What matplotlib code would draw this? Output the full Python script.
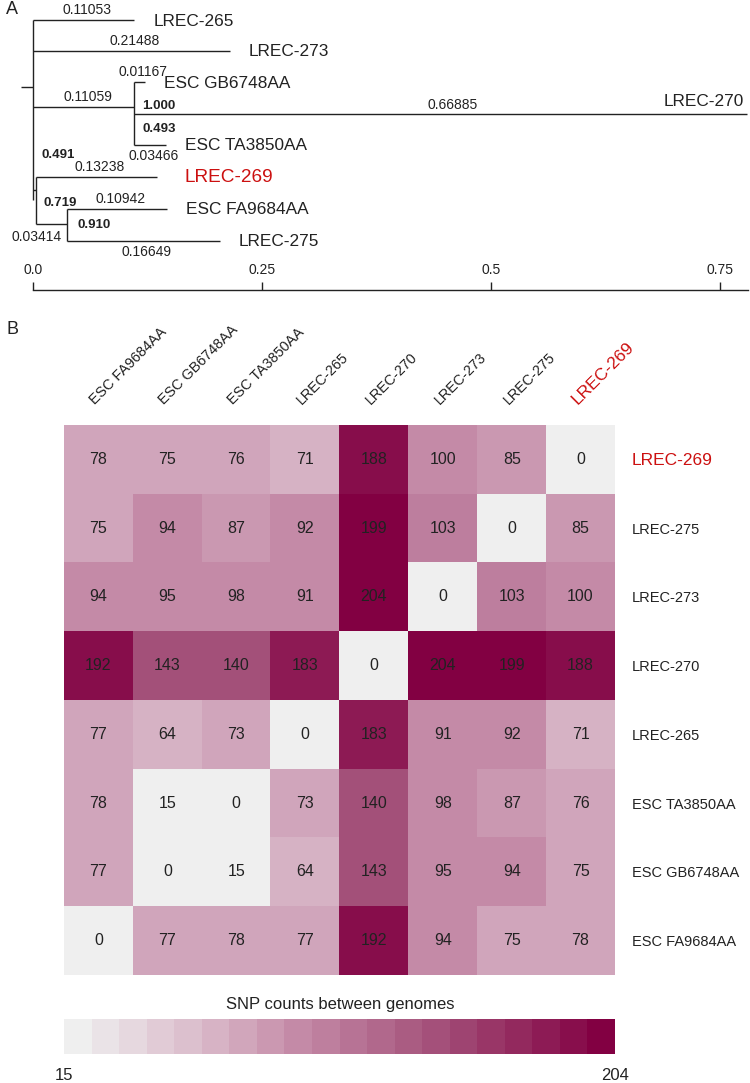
import numpy as np
import matplotlib.pyplot as plt
from matplotlib.colors import LinearSegmentedColormap, BoundaryNorm
from matplotlib.transforms import ScaledTranslation

plt.rcParams['font.family'] = ['Liberation Sans', 'DejaVu Sans']

# ---- data: tree (panel A)
leaf_names = ['LREC-265', 'LREC-273', 'ESC GB6748AA', 'LREC-270',
              'ESC TA3850AA', 'LREC-269', 'ESC FA9684AA', 'LREC-275']
leaf_lengths = [0.11053, 0.21488, 0.01167, 0.66885, 0.03466, 0.13238, 0.10942, 0.16649]
clade1_length = 0.11059     # GB6748AA / LREC-270 / TA3850AA
clade2_length = 0.003       # LREC-269 + clade3
clade3_length = 0.03414     # FA9684AA / LREC-275
supports = {'1.000': 'c1', '0.493': 'c1b', '0.491': 'root', '0.719': 'c2', '0.910': 'c3'}
scale_ticks = [0.0, 0.25, 0.5, 0.75]
scale_labels = ['0.0', '0.25', '0.5', '0.75']

# ---- data: SNP matrix (panel B)
col_names = ['ESC FA9684AA', 'ESC GB6748AA', 'ESC TA3850AA', 'LREC-265',
             'LREC-270', 'LREC-273', 'LREC-275', 'LREC-269']
row_names = ['LREC-269', 'LREC-275', 'LREC-273', 'LREC-270',
             'LREC-265', 'ESC TA3850AA', 'ESC GB6748AA', 'ESC FA9684AA']
snp = np.array([
    [78, 75, 76, 71, 188, 100, 85, 0],
    [75, 94, 87, 92, 199, 103, 0, 85],
    [94, 95, 98, 91, 204, 0, 103, 100],
    [192, 143, 140, 183, 0, 204, 199, 188],
    [77, 64, 73, 0, 183, 91, 92, 71],
    [78, 15, 0, 73, 140, 98, 87, 76],
    [77, 0, 15, 64, 143, 95, 94, 75],
    [0, 77, 78, 77, 192, 94, 75, 78],
])
vmin, vmax = 15, 204
n_levels = 20
highlight = 'LREC-269'

RED = '#cc1010'
INK = '#222222'

W, H = 750, 1083
fig = plt.figure(figsize=(W / 100, H / 100), dpi=100)


def frac(left, top, right, bottom):
    return [left / W, 1 - bottom / H, (right - left) / W, (bottom - top) / H]


# ================= panel A: tree =================
ax = fig.add_axes(frac(0, 0, W, 300))
px = 1 / 916.0
ax.set_xlim(-33 * px, 717 * px)
ax.set_ylim(300, 0)
for s in ['left', 'right', 'bottom']:
    ax.spines[s].set_visible(False)
ax.set_yticks([])

leaf_y = [20, 51, 82, 114, 145, 177, 209, 241]
c1_y, c2_y, c3_y = 107, 190, 224

lw = 1.0


def hline(x0, x1, y):
    ax.plot([x0, x1], [y, y], color=INK, lw=lw, solid_capstyle='butt')


def vline(x, y0, y1):
    ax.plot([x, x], [y0, y1], color=INK, lw=lw, solid_capstyle='butt')


# root
hline(-12 * px, 0, 87)
vline(0, leaf_y[0], 200)
c1_x = clade1_length
c2_x = clade2_length
c3_x = c2_x + clade3_length
starts = [0, 0, c1_x, c1_x, c1_x, c2_x, c3_x, c3_x]
hline(0, c1_x, c1_y)
vline(c1_x, leaf_y[2], leaf_y[4])
hline(0, c2_x, c2_y)
vline(c2_x, leaf_y[5], c3_y)
hline(c2_x, c3_x, c3_y)
vline(c3_x, leaf_y[6], leaf_y[7])

bl_size = 10
for i, (name, bl) in enumerate(zip(leaf_names, leaf_lengths)):
    x0 = starts[i]
    x1 = x0 + bl
    y = leaf_y[i]
    hline(x0, x1, y)
    col = RED if name == highlight else INK
    fs = 13.7 if name == highlight else 12.4
    off = 27 if name == highlight else 19
    if name == 'LREC-270':
        ax.text(x1 - 3 * px, y - 13, name, ha='right', va='center', fontsize=fs, color=col)
        ax.text(x0 + bl * 0.52, y - 9, f'{bl:.5f}', ha='center', va='center', fontsize=bl_size, color=INK)
        continue
    ax.text(x1 + off * px, y + 1, name, ha='left', va='center', fontsize=fs, color=col)
    below = name in ('ESC TA3850AA', 'LREC-275')
    dy = 11 if below else -10
    ax.text(x0 + bl / 2 + 3 * px, y + dy, f'{bl:.5f}', ha='center', va='center',
            fontsize=bl_size, color=INK)

ax.text(c1_x / 2 + 4 * px, c1_y - 10, f'{clade1_length:.5f}', ha='center', va='center',
        fontsize=bl_size, color=INK)
ax.text(c3_x - 5 * px, c3_y + 13, f'{clade3_length:.5f}', ha='right', va='center',
        fontsize=bl_size, color=INK)

sup_pos = {
    'c1': (c1_x + 8 * px, c1_y - 1),
    'c1b': (c1_x + 8 * px, 129),
    'root': (9 * px, 155),
    'c2': (c2_x + 8 * px, 203),
    'c3': (c3_x + 10 * px, 225),
}
for lab, key in supports.items():
    x, y = sup_pos[key]
    ax.text(x, y, lab, ha='left', va='center', fontsize=9.5, fontweight='bold', color=INK)

# scale axis
ax.spines['top'].set_position(('data', 290))
ax.spines['top'].set_bounds(0, 715 * px)
ax.spines['top'].set_color(INK)
ax.spines['top'].set_linewidth(1.0)
ax.xaxis.set_ticks_position('top')
ax.set_xticks(scale_ticks)
ax.set_xticklabels(scale_labels)
ax.tick_params(axis='x', direction='out', length=6, width=1.0, color=INK,
               labelsize=10, labelcolor=INK, pad=3)

fig.text(6 / W, 1 - 10 / H, 'A', fontsize=13, ha='left', va='center', color=INK)
fig.text(6 / W, 1 - 329 / H, 'B', fontsize=13, ha='left', va='center', color=INK)

# ================= panel B: heatmap =================
cmap = LinearSegmentedColormap.from_list(
    'snp', [(0.0, '#efefef'), (0.25, '#d8b6c7'), (0.42, '#c48aa7'),
            (0.68, '#a4517a'), (1.0, '#820042')])
bounds = np.linspace(vmin, vmax, n_levels + 1)
norm = BoundaryNorm(bounds, cmap.N, clip=True)

hm = fig.add_axes(frac(64, 425, 615, 975))
im = hm.imshow(snp, cmap=cmap, norm=norm, aspect='auto')
for i in range(snp.shape[0]):
    for j in range(snp.shape[1]):
        hm.text(j, i, str(snp[i, j]), ha='center', va='center', fontsize=11.5, color=INK)

for s in hm.spines.values():
    s.set_visible(False)
hm.xaxis.tick_top()
hm.set_xticks(range(len(col_names)))
hm.set_xticklabels(col_names, rotation=45, ha='left', va='bottom', rotation_mode='anchor')
hm.yaxis.tick_right()
hm.set_yticks(range(len(row_names)))
hm.set_yticklabels(row_names)
hm.tick_params(axis='x', length=0, pad=13, labelsize=10.4, labelcolor=INK)
hm.tick_params(axis='y', length=0, pad=12, labelsize=10.5, labelcolor=INK)
shift = ScaledTranslation(-1 / 100, 0, fig.dpi_scale_trans)
for t in hm.get_xticklabels():
    t.set_transform(t.get_transform() + shift)
    if t.get_text() == highlight:
        t.set_color(RED)
        t.set_fontsize(12.5)
for t in hm.get_yticklabels():
    if t.get_text() == highlight:
        t.set_color(RED)
        t.set_fontsize(12.5)

# colorbar
cax = fig.add_axes(frac(64, 1019, 615, 1054))
cb = fig.colorbar(im, cax=cax, orientation='horizontal')
cb.outline.set_visible(False)
cax.minorticks_off()
cb.set_ticks([vmin, vmax])
cb.set_ticklabels([str(vmin), str(vmax)])
cax.tick_params(which='both', length=0, pad=10, labelsize=12, labelcolor=INK)
fig.text(340 / W, 1 - 1004 / H, 'SNP counts between genomes', ha='center', va='center',
         fontsize=12, color=INK)

fig.savefig('out.png', dpi=100)
